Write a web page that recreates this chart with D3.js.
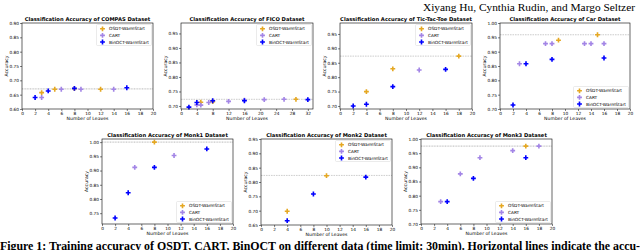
<!DOCTYPE html>
<html><head><meta charset="utf-8">
<script src="https://cdn.jsdelivr.net/npm/d3@7"></script>
<style>body{margin:0;background:#fff}svg{display:block}</style>
</head><body>
<svg id="c" width="640" height="250"></svg>
<script>
// ---- data (leaves, accuracy) ----
const seriesNames = ["OSDT-WarmStart", "CART", "BinOCT-WarmStart"];
const datasetTitles = ["COMPAS", "FICO", "Tic-Tac-Toe", "Car", "Monk1", "Monk2", "Monk3"];

const compasOSDT = [[3,0.657],[5,0.669],[8,0.671],[12,0.669]];
const compasCART = [[3,0.640],[6,0.669],[9,0.669],[14,0.669]];
const compasBin  = [[2,0.640],[4,0.663],[8,0.672],[16,0.674]];
const compasLine = 0.670;

const ficoOSDT = [[5,0.713],[8,0.715],[29,0.723]];
const ficoCART = [[4,0.704],[5,0.703],[7,0.712],[12,0.716],[16,0.720],[21,0.722],[26,0.723]];
const ficoBin  = [[2,0.696],[4,0.712],[8,0.718],[16,0.718],[32,0.722]];
const ficoLine = 0.723;

const tttOSDT = [[4,0.750],[8,0.829],[18,0.873]];
const tttCART = [[12,0.825]];
const tttBin  = [[2,0.700],[4,0.706],[8,0.767],[16,0.827]];
const tttLine = 0.873;

const carOSDT = [[9,0.940],[15,0.959]];
const carCART = [[3,0.858],[7,0.928],[8,0.928],[13,0.928],[14,0.928],[16,0.928]];
const carBin  = [[2,0.714],[4,0.858],[8,0.873],[16,0.878]];
const carLine = 0.959;

const monk1OSDT = [[8,1.000]];
const monk1CART = [[5,0.911],[11,0.953]];
const monk1Bin  = [[2,0.733],[4,0.822],[8,0.911],[16,0.976]];
const monk1Line = 1.000;

const monk2OSDT = [[4,0.698],[10,0.822]];
const monk2CART = [];
const monk2Bin  = [[4,0.665],[8,0.758],[16,0.817]];
const monk2Line = 0.823;

const monk3OSDT = [[16,0.975]];
const monk3CART = [[3,0.779],[6,0.877],[9,0.934],[14,0.959],[18,0.975]];
const monk3Bin  = [[4,0.779],[8,0.861],[16,0.934]];
const monk3Line = 0.975;

const ticks20 = [0,2,4,6,8,10,12,14,16,18,20];
const ticks32 = [0,4,8,12,16,20,24,28,32];
const yTicksA = [0.60,0.65,0.70,0.75,0.80,0.85,0.90];
const yTicksB = [0.70,0.75,0.80,0.85,0.90,0.95];
const yTicksC = [0.70,0.75,0.80,0.85,0.90,0.95,1.00];
const yTicksM1 = [0.75,0.80,0.85,0.90,0.95,1.00];
const yTicksM2 = [0.65,0.70,0.75,0.80,0.85,0.90,0.95];

// ---- layout ----
const colors = ["#e5a823", "#a385e6", "#0000ff"];
const panels = [
  {t:0, L:22,  R:153, T:23,  B:109, xd:[0,20],   xt:ticks20, yd:[0.60,0.90],   yt:yTicksA, s:[compasOSDT,compasCART,compasBin], h:compasLine, leg:"tr", dotted:true},
  {t:1, L:181, R:313, T:23,  B:109, xd:[0,33.3], xt:ticks32, yd:[0.6896,0.986], yt:yTicksB, s:[ficoOSDT,ficoCART,ficoBin], h:ficoLine, leg:"tr"},
  {t:2, L:340, R:472, T:23,  B:109, xd:[0,20],   xt:ticks20, yd:[0.6895,0.988], yt:yTicksB, s:[tttOSDT,tttCART,tttBin], h:tttLine, leg:"tr"},
  {t:3, L:500, R:630, T:23,  B:109, xd:[0,20],   xt:ticks20, yd:[0.70,1.00],   yt:yTicksC, s:[carOSDT,carCART,carBin], h:carLine, leg:"br"},
  {t:4, L:102, R:233, T:139, B:224, xd:[0,20],   xt:ticks20, yd:[0.712,1.011], yt:yTicksM1, s:[monk1OSDT,monk1CART,monk1Bin], h:monk1Line, leg:"br", dotted:true},
  {t:5, L:261, R:392, T:139, B:225, xd:[0,20],   xt:ticks20, yd:[0.65,0.95],   yt:yTicksM2, s:[monk2OSDT,monk2CART,monk2Bin], h:monk2Line, leg:"tr"},
  {t:6, L:421, R:552, T:139, B:224, xd:[0,20],   xt:ticks20, yd:[0.70,1.00],   yt:yTicksC, s:[monk3OSDT,monk3CART,monk3Bin], h:monk3Line, leg:"br", dotted:true}
];

const svg = d3.select("#c");
const FONT = "DejaVu Sans, sans-serif";
const marker = d3.symbol().type(d3.symbolCross).size(13);

// header
svg.append("text").attr("x", 423).attr("y", 11)
  .attr("font-family", "Liberation Serif, serif").attr("font-size", 11)
  .attr("textLength", 212).attr("lengthAdjust", "spacingAndGlyphs")
  .text("Xiyang Hu, Cynthia Rudin, and Margo Seltzer");

panels.forEach(p => {
  const g = svg.append("g");
  const x = d3.scaleLinear().domain(p.xd).range([p.L, p.R]);
  const y = d3.scaleLinear().domain(p.yd).range([p.B, p.T]);

  // axes
  const xa = g.append("g").attr("transform", `translate(0,${p.B})`)
    .call(d3.axisBottom(x).tickValues(p.xt).tickSize(2).tickPadding(1).tickFormat(d3.format("d")));
  const ya = g.append("g").attr("transform", `translate(${p.L},0)`)
    .call(d3.axisLeft(y).tickValues(p.yt).tickSize(2).tickPadding(1).tickFormat(d3.format(".2f")));
  [xa, ya].forEach(a => {
    a.select(".domain").remove();
    a.selectAll("line").attr("stroke", "#000").attr("stroke-width", 0.5);
    a.selectAll("text").attr("font-family", FONT).attr("font-size", 4.3).attr("fill", "#000");
  });

  // hline
  g.append("line").attr("x1", p.L).attr("x2", p.R).attr("y1", y(p.h)).attr("y2", y(p.h))
    .attr("stroke", p.dotted ? "#c8c8c8" : "#9a9a9a")
    .attr("stroke-width", p.dotted ? 1.2 : 0.5)
    .attr("stroke-dasharray", p.dotted ? "1,0.6" : "1.6,0.9");

  // points
  p.s.forEach((data, i) => {
    g.selectAll(null).data(data).enter().append("path")
      .attr("d", marker)
      .attr("transform", d => `translate(${x(d[0])},${y(d[1])})`)
      .attr("fill", colors[i]);
  });

  // frame
  g.append("rect").attr("x", p.L).attr("y", p.T).attr("width", p.R - p.L).attr("height", p.B - p.T)
    .attr("fill", "none").attr("stroke", "#000").attr("stroke-width", 0.6);

  // title
  g.append("text").attr("x", (p.L + p.R) / 2).attr("y", p.T - 2)
    .attr("text-anchor", "middle").attr("font-family", FONT).attr("font-weight", "bold")
    .attr("font-size", 5.2)
    .text(`Classification Accuracy of ${datasetTitles[p.t]} Dataset`);

  // axis labels
  g.append("text").attr("x", (p.L + p.R) / 2).attr("y", p.B + 10.5)
    .attr("text-anchor", "middle").attr("font-family", FONT).attr("font-size", 4.6)
    .text("Number of Leaves");
  g.append("text").attr("transform", `translate(${p.L - 14.5},${(p.T + p.B) / 2}) rotate(-90)`)
    .attr("text-anchor", "middle").attr("font-family", FONT).attr("font-size", 4.6)
    .text("Accuracy");

  // legend
  const lw = 55, lh = 21;
  const lx = p.R - lw - 1.5;
  const ly = p.leg === "tr" ? p.T + 1.5 : p.B - lh - 1.5;
  const lg = g.append("g").attr("transform", `translate(${lx},${ly})`);
  lg.append("rect").attr("width", lw).attr("height", lh).attr("rx", 1)
    .attr("fill", "#fff").attr("fill-opacity", 0.85).attr("stroke", "#d6d6d6").attr("stroke-width", 0.5);
  seriesNames.forEach((n, i) => {
    const yy = 4.3 + i * 6.6;
    lg.append("path").attr("d", marker).attr("transform", `translate(6,${yy})`).attr("fill", colors[i]);
    lg.append("text").attr("x", 12.5).attr("y", yy + 1.5)
      .attr("font-family", FONT).attr("font-size", 4.3).text(n);
  });
});

// caption
svg.append("text").attr("x", 0).attr("y", 249.5)
  .attr("font-family", "Liberation Serif, serif").attr("font-weight", "bold").attr("font-size", 11.5)
  .attr("textLength", 640).attr("lengthAdjust", "spacingAndGlyphs")
  .text("Figure 1: Training accuracy of OSDT, CART, BinOCT on different data (time limit: 30min). Horizontal lines indicate the accu-");
</script>
</body></html>
